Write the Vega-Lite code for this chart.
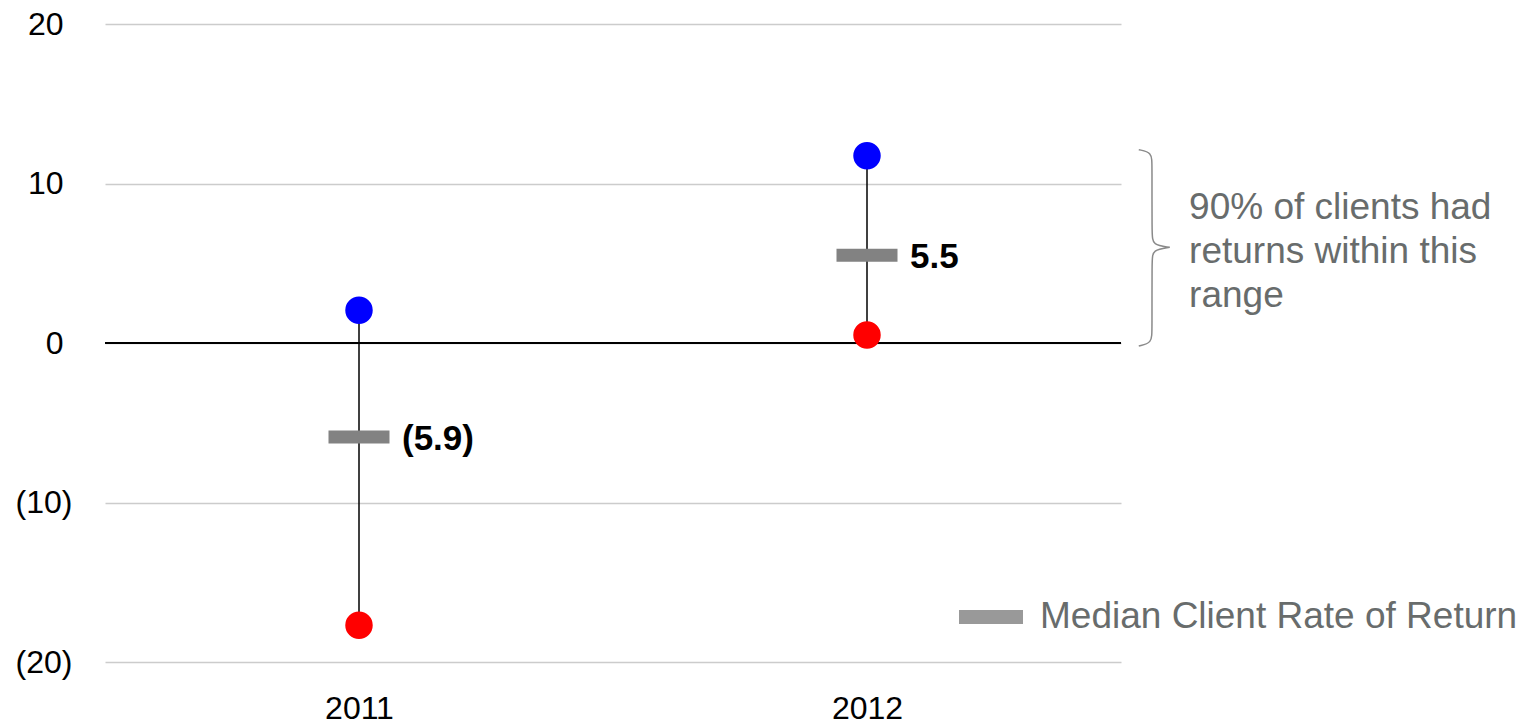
{
  "$schema": "https://vega.github.io/schema/vega-lite/v6.json",
  "width": 1016,
  "height": 638,
  "autosize": {"type": "none"},
  "padding": {"left": 105, "top": 24, "right": 400, "bottom": 63},
  "background": "white",
  "config": {
    "view": {"stroke": null},
    "font": "Liberation Sans",
    "axis": {"domain": false, "ticks": false, "labelFont": "Liberation Sans", "labelFontSize": 32, "labelColor": "#000000", "title": null}
  },
  "datasets": {
    "ranges": [
      {"year": 2011, "high": 2.05, "low": -17.7, "median": -5.9, "label": "(5.9)"},
      {"year": 2012, "high": 11.74, "low": 0.5, "median": 5.5, "label": "5.5"}
    ],
    "brace": [
      {"i": 0, "bx": 2012.535, "by": 12.12},
      {"i": 1, "bx": 2012.561, "by": 11.95},
      {"i": 2, "bx": 2012.561, "by": 11.2},
      {"i": 3, "bx": 2012.561, "by": 6.8},
      {"i": 4, "bx": 2012.562, "by": 6.15},
      {"i": 5, "bx": 2012.596, "by": 6.0},
      {"i": 6, "bx": 2012.596, "by": 6.0},
      {"i": 7, "bx": 2012.596, "by": 6.0},
      {"i": 8, "bx": 2012.562, "by": 5.85},
      {"i": 9, "bx": 2012.561, "by": 5.2},
      {"i": 10, "bx": 2012.561, "by": 0.8},
      {"i": 11, "bx": 2012.561, "by": 0.0},
      {"i": 12, "bx": 2012.535, "by": -0.19}
    ],
    "note": [
      {"nx": 2012.634, "ny": 7.77, "text": "90% of clients had\nreturns within this\nrange"}
    ]
  },
  "layer": [
    {
      "data": {"name": "ranges"},
      "mark": {"type": "rule", "color": "#000000", "strokeWidth": 1.5},
      "encoding": {
        "x": {"field": "year", "type": "quantitative", "title": null,
              "scale": {"domain": [2010.5, 2012.5], "nice": false, "zero": false},
              "axis": {"values": [2011, 2012], "format": "d", "grid": false, "labelPadding": 31, "labelFontSize": 32}},
        "y": {"field": "low", "type": "quantitative", "title": null,
              "scale": {"domain": [-20, 20], "nice": false, "zero": false},
              "axis": {"values": [-20, -10, 0, 10, 20], "grid": true, "gridColor": "#cccccc", "gridWidth": 1.5, "labelFontSize": 32,
                       "labelPadding": {"condition": {"test": "datum.value >= 0", "value": 42}, "value": 33},
                       "labelExpr": "datum.value < 0 ? '(' + abs(datum.value) + ')' : '' + datum.value"}},
        "y2": {"field": "high"}
      }
    },
    {
      "data": {"values": [{"z": 0}]},
      "mark": {"type": "rule", "color": "#000000", "strokeWidth": 2},
      "encoding": {"y": {"field": "z", "type": "quantitative", "title": null}}
    },
    {
      "data": {"name": "ranges"},
      "mark": {"type": "tick", "orient": "horizontal", "size": 61, "thickness": 13, "opacity": 1, "color": "#828282"},
      "encoding": {
        "x": {"field": "year", "type": "quantitative", "title": null},
        "y": {"field": "median", "type": "quantitative", "title": null}
      }
    },
    {
      "data": {"values": []},
      "mark": {"type": "tick", "orient": "horizontal", "size": 61, "thickness": 13, "opacity": 1},
      "encoding": {
        "x": {"field": "year", "type": "quantitative", "title": null},
        "y": {"field": "median", "type": "quantitative", "title": null},
        "color": {"datum": "Median Client Rate of Return", "type": "nominal",
                  "scale": {"range": ["#999999"]},
                  "legend": {"orient": "none", "legendX": 854, "legendY": 561, "title": null, "padding": 0,
                             "symbolType": "M-1,-0.22H1V0.22H-1Z", "symbolSize": 4096, "symbolStrokeWidth": 0, "symbolOpacity": 1,
                             "labelFontSize": 37, "labelColor": "#686c6c", "labelFont": "Liberation Sans", "labelOffset": 17, "labelLimit": 1000}}
      }
    },
    {
      "data": {"name": "ranges"},
      "mark": {"type": "point", "filled": true, "size": 755, "color": "#0000ff", "opacity": 1},
      "encoding": {
        "x": {"field": "year", "type": "quantitative", "title": null},
        "y": {"field": "high", "type": "quantitative", "title": null}
      }
    },
    {
      "data": {"name": "ranges"},
      "mark": {"type": "point", "filled": true, "size": 755, "color": "#ff0000", "opacity": 1},
      "encoding": {
        "x": {"field": "year", "type": "quantitative", "title": null},
        "y": {"field": "low", "type": "quantitative", "title": null}
      }
    },
    {
      "data": {"name": "ranges"},
      "mark": {"type": "text", "align": "left", "baseline": "middle", "dx": 43, "dy": 2, "fontSize": 35, "fontWeight": "bold", "color": "#000000", "font": "Liberation Sans"},
      "encoding": {
        "x": {"field": "year", "type": "quantitative", "title": null},
        "y": {"field": "median", "type": "quantitative", "title": null},
        "text": {"field": "label"}
      }
    },
    {
      "data": {"name": "brace"},
      "mark": {"type": "line", "interpolate": "basis", "color": "#8a8a8a", "strokeWidth": 1.5},
      "encoding": {
        "x": {"field": "bx", "type": "quantitative", "title": null},
        "y": {"field": "by", "type": "quantitative", "title": null},
        "order": {"field": "i"}
      }
    },
    {
      "data": {"name": "note"},
      "mark": {"type": "text", "align": "left", "baseline": "alphabetic", "fontSize": 37, "lineHeight": 44, "lineBreak": "\n", "color": "#686c6c", "font": "Liberation Sans"},
      "encoding": {
        "x": {"field": "nx", "type": "quantitative", "title": null},
        "y": {"field": "ny", "type": "quantitative", "title": null},
        "text": {"field": "text"}
      }
    }
  ]
}
